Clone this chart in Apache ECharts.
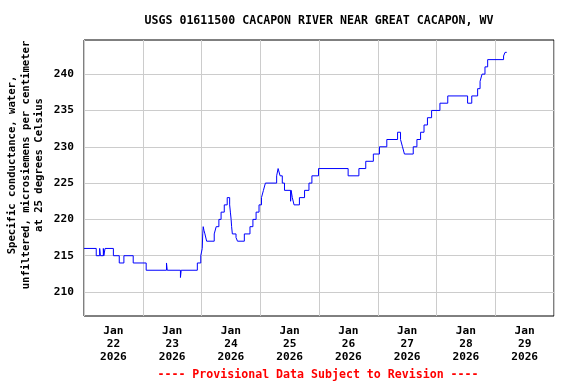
<!DOCTYPE html>
<html>
<head>
<meta charset="utf-8">
<script src="https://cdn.jsdelivr.net/npm/echarts@6/dist/echarts.min.js"></script>
<style>html,body{margin:0;padding:0;background:#fff}#c{width:576px;height:384px}</style>
</head>
<body>
<div id="c"></div>
<script>
// hours since Jan 22 2026 00:00 at which a new reading level starts
const hours = [0,5.0,6.4,6.7,7.9,8.1,8.6,12.0,14.4,16.3,20.1,25.4,33.7,34.0,39.4,39.7,46.3,47.7,48.3,48.5,48.7,49.0,49.4,50.1,53.2,54.0,55.1,56.0,57.3,58.5,59.5,59.8,60.1,60.3,60.6,62.1,62.7,65.5,67.8,69.0,70.3,71.5,72.5,73.3,74.1,78.7,79.3,80.1,81.0,81.9,84.4,84.6,85.1,85.8,88.0,90.1,91.9,93.1,95.8,107.9,112.3,115.1,118.2,120.7,123.7,128.1,129.3,130.1,130.9,134.5,136.0,137.5,138.9,140.3,142.0,145.4,148.6,156.7,158.4,160.8,161.8,162.6,163.8,164.9,171.4,172.0,172.7];
const conductance = [216,215,216,215,216,215,216,215,214,215,214,213,214,213,212,213,214,215,216,218,219,218.5,218,217,218,219,220,221,222,223,222,221,220,219,218,217.5,217,218,219,220,221,222,223,224,225,226,227,226,225,224,222.5,224,223,222,223,224,225,226,227,226,227,228,229,230,231,232,231,230,229,230,231,232,233,234,235,236,237,236,237,238,239,240,241,242,242.5,243,243];
const yTicks = [210,215,220,225,230,235,240];
const xLabelHours = [12,36,60,84,108,132,156,180];
const xLabelMonth = 'Jan';
const xLabelDays = ['22','23','24','25','26','27','28','29'];
const xLabelYear = '2026';
const titleText = 'USGS 01611500 CACAPON RIVER NEAR GREAT CACAPON, WV';
const yName = ['Specific conductance, water,', 'unfiltered, microsiemens per centimeter', 'at 25 degrees Celsius'];
const footer = '---- Provisional Data Subject to Revision ----';

const font = 'DejaVu Sans Mono';
const chart = echarts.init(document.getElementById('c'), null, {renderer:'canvas'});
const series = hours.map((h,i)=>[h, conductance[i]]);
chart.setOption({
  animation:false,
  backgroundColor:'#fff',
  grid:{left:84, top:40, width:470, height:276, show:true, borderColor:'#000', borderWidth:1, backgroundColor:'transparent'},
  xAxis:{type:'value', min:0, max:192, interval:24,
    axisLine:{show:false}, axisTick:{show:false},
    splitLine:{show:true, lineStyle:{color:'#cccccc', width:1}},
    axisLabel:{customValues:xLabelHours, margin:9, fontFamily:font, fontWeight:'bold', fontSize:11.2, lineHeight:12.8, color:'#000',
      formatter:(v)=>{const i=xLabelHours.indexOf(v); return xLabelMonth+'\n'+xLabelDays[i]+'\n'+xLabelYear;}}},
  yAxis:{type:'value', min:206.7, max:244.7,
    axisLine:{show:false}, axisTick:{show:false}, splitLine:{show:false},
    axisLabel:{customValues:yTicks, margin:10, fontFamily:font, fontWeight:'bold', fontSize:11.2, color:'#000'}},
  graphic:[
    {type:'text', x:319, y:21, style:{text:titleText, fontFamily:font, fontWeight:'bold', fontSize:11.6, fill:'#000', align:'center', verticalAlign:'middle'}},
    {type:'text', x:26, y:165, rotation:Math.PI/2, style:{text:yName.join('\n'), fontFamily:font, fontWeight:'bold', fontSize:10.6, lineHeight:13.7, fill:'#000', align:'center', verticalAlign:'middle'}},
    {type:'text', x:318, y:375, style:{text:footer, fontFamily:font, fontWeight:'bold', fontSize:11.6, fill:'#ff0000', align:'center', verticalAlign:'middle'}}
  ],
  series:[{type:'line', data:series, step:'end', showSymbol:false, symbol:'none',
    lineStyle:{color:'#0000ff', width:1}, z:3,
    markLine:{silent:true, symbol:'none', label:{show:false}, lineStyle:{color:'#cccccc', type:'solid', width:1}, z:1,
      data:yTicks.map(v=>({yAxis:v}))}}]
});
</script>
</body>
</html>
